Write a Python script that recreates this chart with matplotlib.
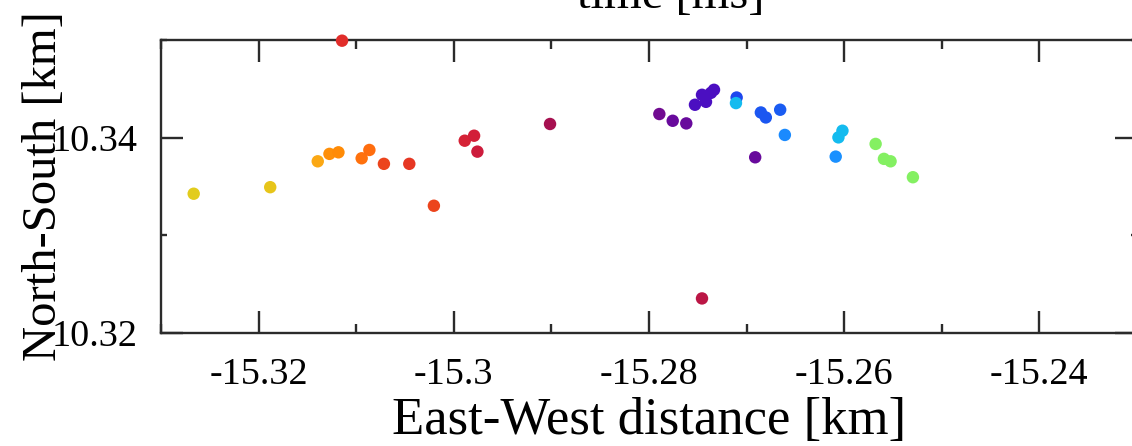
import matplotlib
matplotlib.use("Agg")
import matplotlib.pyplot as plt
from matplotlib.colors import LinearSegmentedColormap
from matplotlib.ticker import MultipleLocator, FixedLocator

plt.rcParams['font.family'] = ['Liberation Serif', 'DejaVu Serif']

# ---- data ----
ew_km = [-15.32665, -15.31881, -15.31394, -15.31274, -15.31182, -15.30944,
         -15.30865, -15.30716, -15.30456, -15.30204, -15.31145, -15.29888,
         -15.29792, -15.29758, -15.29014, -15.27457, -15.27894, -15.27757,
         -15.27618, -15.27529, -15.27457, -15.27416, -15.27365, -15.27334,
         -15.26912, -15.27102, -15.27109, -15.26854, -15.26803, -15.26656,
         -15.26608, -15.26018, -15.26059, -15.26087, -15.25678, -15.25593,
         -15.25525, -15.25296]
ns_km = [10.33426, 10.33493, 10.33758, 10.33834, 10.33850, 10.33789,
         10.33874, 10.33732, 10.33732, 10.33303, 10.34993, 10.33969,
         10.34020, 10.33857, 10.34140, 10.32354, 10.34242, 10.34173,
         10.34146, 10.34337, 10.34439, 10.34367, 10.34459, 10.34490,
         10.33799, 10.34411, 10.34354, 10.34258, 10.34207, 10.34286,
         10.34028, 10.34071, 10.34003, 10.33806, 10.33936, 10.33783,
         10.33758, 10.33595]
time_ms = [0.0, 0.4, 2.0, 3.2, 3.4, 4.4, 4.6, 6.0, 6.6, 6.0, 7.2, 8.0,
           8.2, 8.4, 10.0, 9.2, 11.4, 11.6, 11.6, 12.6, 12.6, 12.6, 12.6,
           12.6, 11.6, 14.0, 17.2, 14.4, 14.4, 14.6, 15.8, 17.2, 17.2, 16.0,
           20.0, 20.0, 20.0, 20.0]
x_ticks = [-15.32, -15.30, -15.28, -15.26, -15.24]
x_tick_labels = ['-15.32', '-15.3', '-15.28', '-15.26', '-15.24']
y_ticks = [10.32, 10.34]
y_tick_labels = ['10.32', '10.34']

# colour palette (style)
cmap = LinearSegmentedColormap.from_list('timecm', [
    (0.00, '#e2cc1c'), (0.10, '#fba714'), (0.17, '#ff8a06'),
    (0.23, '#ff6c0e'), (0.31, '#e93d1f'), (0.37, '#e02a2c'),
    (0.42, '#cd1c3c'), (0.50, '#a8104e'), (0.58, '#680a9c'),
    (0.63, '#4c0ec0'), (0.70, '#1e46ee'), (0.73, '#1a5cf2'),
    (0.80, '#1a90ff'), (0.86, '#12baf2'), (1.00, '#84f062')])

fig = plt.figure(figsize=(11.32, 4.46), dpi=100)
ax = fig.add_axes([161/1132, 1-333/446, 976/1132, 293/446])

ax.scatter(ew_km, ns_km, c=time_ms, cmap=cmap, vmin=0, vmax=20,
           s=80, marker='o', linewidths=0, clip_on=False, zorder=3)

ax.set_xlim(-15.33, -15.23)
ax.set_ylim(10.32, 10.35)

ax.xaxis.set_major_locator(FixedLocator(x_ticks))
ax.set_xticklabels(x_tick_labels)
ax.xaxis.set_minor_locator(MultipleLocator(0.01))
ax.yaxis.set_major_locator(FixedLocator(y_ticks))
ax.set_yticklabels(y_tick_labels)
ax.yaxis.set_minor_locator(MultipleLocator(0.01))

spine_c = '#2b2b2b'
for sp in ax.spines.values():
    sp.set_color(spine_c)
    sp.set_linewidth(1.7)

ax.tick_params(which='both', direction='in', top=True, right=True,
               color=spine_c, width=1.7, labelsize=27.5, labelcolor='black')
ax.tick_params(axis='x', which='major', length=16, pad=18)
ax.tick_params(axis='x', which='minor', length=6.5)
ax.tick_params(axis='y', which='major', length=16, pad=17)
ax.tick_params(axis='y', which='minor', length=4.5)

ax.set_xlabel('East-West distance [km]', fontsize=38)
ax.xaxis.set_label_coords(0.5, -0.218)
ax.set_ylabel('North-South [km]', fontsize=35)
ax.yaxis.set_label_coords(-0.12, 0.5)
ax.yaxis.label.set_verticalalignment('center')

fig.text(671/1132, 1-8/446, 'time [ms]', ha='center', va='baseline',
         fontsize=35)

fig.savefig('out.png', dpi=100)
